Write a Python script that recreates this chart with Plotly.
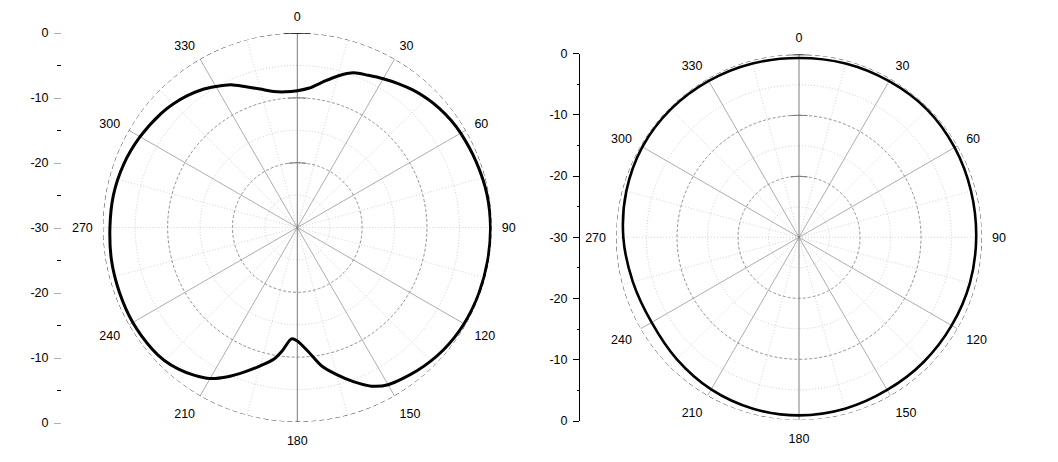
import numpy as np
import plotly.graph_objects as go

# ---------------- data (dB vs angle, degrees) ----------------
left_theta = [0, 5, 10, 15, 20, 25, 30, 35, 40, 45, 50, 55, 60, 70, 80, 90, 100, 110, 120,
              130, 140, 150, 155, 160, 165, 170, 175, 180, 183, 187, 190, 195, 200, 205,
              210, 215, 220, 225, 230, 240, 250, 260, 270, 280, 290, 300, 310, 315, 320,
              325, 330, 335, 340, 345, 350, 355]
left_db = [-8.9, -8.4, -7.2, -5.8, -4.6, -4.1, -3.5, -2.9, -2.3, -1.8, -1.4, -1.1, -0.9,
           -0.6, -0.3, -0.2, -0.2, -0.2, -0.3, -0.6, -1.2, -2.0, -3.0, -4.7, -6.5, -8.3,
           -10.8, -12.5, -12.8, -10.8, -9.4, -7.9, -6.3, -4.6, -3.1, -2.2, -1.5, -1.0,
           -0.8, -0.7, -0.8, -0.9, -1.1, -1.2, -1.5, -2.0, -2.6, -3.0, -3.5, -4.1, -4.9,
           -5.7, -6.9, -7.9, -8.7, -9.0]

right_theta = [0, 15, 30, 45, 60, 75, 90, 105, 120, 135, 150, 165, 180, 195, 210, 225,
               240, 255, 270, 285, 300, 315, 330, 345]
right_db = [-0.6, -0.5, -0.45, -0.35, -0.55, -0.8, -0.95, -1.0, -1.1, -1.1, -1.1, -0.9,
            -0.8, -0.9, -1.2, -1.7, -2.1, -1.8, -1.2, -0.7, -0.35, -0.3, -0.4, -0.5]

angle_ticks = [0, 30, 60, 90, 120, 150, 180, 210, 240, 270, 300, 330]
angle_labels = [str(a) for a in angle_ticks]
r_min, r_max = -30, 0
major_rings = [-20, -10]
minor_rings = [-25, -15, -5]
side_tickvals = [30, 20, 10, 0, -10, -20, -30]
side_ticktext = ["0", "-10", "-20", "-30", "-20", "-10", "0"]

FONT = "Liberation Sans, Arial, sans-serif"
W, H = 1058, 462

fig = go.Figure()


def add_polar_frame(sub):
    circ = np.linspace(0, 360, 361)
    for rv in minor_rings:
        fig.add_trace(go.Scatterpolar(r=[rv] * len(circ), theta=circ, mode="lines",
                                      line=dict(color="#c4c4c4", width=0.8, dash="1px,2px"),
                                      subplot=sub, hoverinfo="skip", showlegend=False))
    th, rr = [], []
    for a in range(15, 360, 30):
        th += [a, a, None]
        rr += [r_min, r_max, None]
    for a in (90, 270):
        th += [a, a, None]
        rr += [r_min, r_max, None]
    fig.add_trace(go.Scatterpolar(r=rr, theta=th, mode="lines",
                                  line=dict(color="#c8c8c8", width=0.8, dash="1px,2px"),
                                  subplot=sub, hoverinfo="skip", showlegend=False))
    for rv in major_rings:
        fig.add_trace(go.Scatterpolar(r=[rv] * len(circ), theta=circ, mode="lines",
                                      line=dict(color="#858585", width=0.9, dash="3px,2px"),
                                      subplot=sub, hoverinfo="skip", showlegend=False))
    th, rr = [], []
    for a in angle_ticks:
        if a in (0, 90, 180, 270):
            continue
        th += [a, a, None]
        rr += [r_min, r_max, None]
    fig.add_trace(go.Scatterpolar(r=rr, theta=th, mode="lines",
                                  line=dict(color="#8a8a8a", width=0.7),
                                  subplot=sub, hoverinfo="skip", showlegend=False))
    fig.add_trace(go.Scatterpolar(r=[r_max, r_min, r_max], theta=[0, 0, 180], mode="lines",
                                  line=dict(color="#7a7a7a", width=1),
                                  subplot=sub, hoverinfo="skip", showlegend=False))
    for rv, half in ((-10, 4), (-20, 8)):
        fig.add_trace(go.Scatterpolar(r=[rv, rv, rv], theta=[-half, 0, half], mode="lines",
                                      line=dict(color="#7a7a7a", width=1),
                                      subplot=sub, hoverinfo="skip", showlegend=False))
    fig.add_trace(go.Scatterpolar(r=[r_max] * len(circ), theta=circ, mode="lines",
                                  line=dict(color="black", width=0.8, dash="5px,3px"),
                                  cliponaxis=False,
                                  subplot=sub, hoverinfo="skip", showlegend=False))
    fig.add_trace(go.Scatterpolar(r=[r_max] * 3, theta=[-4, 0, 4], mode="lines",
                                  line=dict(color="black", width=1.2), cliponaxis=False,
                                  subplot=sub, hoverinfo="skip", showlegend=False))


add_polar_frame("polar")
add_polar_frame("polar2")

fig.add_trace(go.Scatterpolar(r=left_db + [left_db[0]], theta=left_theta + [360],
                              mode="lines", line=dict(color="black", width=3, shape="spline",
                                                      smoothing=0.8),
                              subplot="polar", cliponaxis=False, showlegend=False))
fig.add_trace(go.Scatterpolar(r=right_db + [right_db[0]], theta=right_theta + [360],
                              mode="lines", line=dict(color="black", width=2.6, shape="spline"),
                              subplot="polar2", cliponaxis=False, showlegend=False))

fig.add_trace(go.Scatter(x=[None], y=[None], xaxis="x", yaxis="y", showlegend=False,
                         hoverinfo="skip"))
fig.add_trace(go.Scatter(x=[None], y=[None], xaxis="x2", yaxis="y2", showlegend=False,
                         hoverinfo="skip"))


def polar_layout(cx, cy, R):
    return dict(
        domain=dict(x=[(cx - R) / W, (cx + R) / W],
                    y=[(H - cy - R) / H, (H - cy + R) / H]),
        bgcolor="white",
        radialaxis=dict(range=[r_min, r_max], showticklabels=False, ticks="",
                        showline=False, showgrid=False),
        angularaxis=dict(rotation=90, direction="clockwise", tickmode="array",
                         tickvals=angle_ticks, ticktext=angle_labels, showgrid=False,
                         showline=False, ticks="outside", ticklen=7,
                         tickcolor="rgba(0,0,0,0)",
                         tickfont=dict(family=FONT, size=12.5, color="black")),
    )


def side_axis(ypix_top, ypix_bot, showline, minor_len, major_len, major_color):
    return dict(
        domain=[(H - ypix_bot) / H, (H - ypix_top) / H],
        range=[-30, 30], tickmode="array", tickvals=side_tickvals, ticktext=side_ticktext,
        ticks="outside", ticklen=major_len, tickcolor=major_color, tickwidth=1,
        showline=showline, linecolor="black", linewidth=1, showgrid=False, zeroline=False,
        ticklabelstandoff=3, automargin=False,
        minor=dict(dtick=5, tick0=0, ticks="outside", ticklen=minor_len,
                   tickcolor="black", tickwidth=1, showgrid=False),
        tickfont=dict(family=FONT, size=12.5, color="black"),
        fixedrange=True,
    )


lx = 61.7
rx = 580.0
fig.update_layout(
    width=W, height=H, autosize=False,
    margin=dict(l=0, r=0, t=0, b=0, pad=0, autoexpand=False),
    paper_bgcolor="white", plot_bgcolor="rgba(0,0,0,0)",
    showlegend=False,
    polar=polar_layout(297.3, 227.5, 194.5),
    polar2=polar_layout(799.0, 237.3, 183.0),
    xaxis=dict(domain=[lx / W, (lx + 1) / W], visible=False, range=[0, 1], automargin=False),
    yaxis=side_axis(33.0, 423.0, False, 3.3, 6.7, "#b0b0b0"),
    xaxis2=dict(domain=[rx / W, (rx + 1) / W], visible=False, range=[0, 1], automargin=False),
    yaxis2=side_axis(53.6, 421.0, True, 2.5, 6, "black"),
)
fig.update_layout(yaxis2=dict(anchor="x2"), yaxis=dict(anchor="x"))

fig.write_html("out.html", config={"displayModeBar": False, "staticPlot": True},
               post_script="document.body.style.margin='0';document.body.style.overflow='hidden';")
